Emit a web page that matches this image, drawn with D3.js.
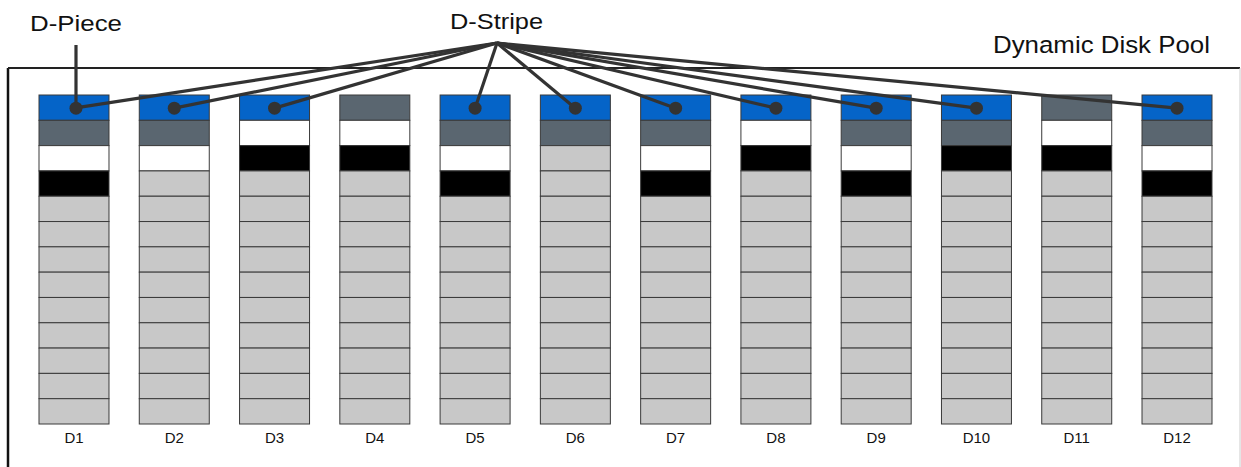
<!DOCTYPE html>
<html>
<head>
<meta charset="utf-8">
<script src="https://cdn.jsdelivr.net/npm/d3@7"></script>
<style>
  body { margin: 0; background: #fff; }
  text { font-family: "Liberation Sans", Arial, sans-serif; fill: #111; }
</style>
</head>
<body>
<div id="chart"></div>
<script>
// drives in the pool
const drives = ["D1", "D2", "D3", "D4", "D5", "D6", "D7", "D8", "D9", "D10", "D11", "D12"];
// pieces on top of each drive, top to bottom (b = blue stripe, g = gray, w = white, k = black)
const topPieces = [
  ["b", "g", "w", "k"],
  ["b", "g", "w"],
  ["b", "w", "k"],
  ["g", "w", "k"],
  ["b", "g", "w", "k"],
  ["b", "g"],
  ["b", "g", "w", "k"],
  ["b", "w", "k"],
  ["b", "g", "w", "k"],
  ["b", "g", "k"],
  ["g", "w", "k"],
  ["b", "g", "w", "k"]
];
const rowCount = 13;
// drives that hold a piece of the highlighted stripe
const stripeDrives = ["D1", "D2", "D3", "D5", "D6", "D7", "D8", "D9", "D10", "D12"];

const colors = { b: "#0564c8", g: "#5a6670", w: "#ffffff", k: "#000000", e: "#c8c8c8" };

const W = 1241, H = 467;
const svg = d3.select("#chart").append("svg")
  .attr("width", W).attr("height", H);

const x = d3.scaleBand().domain(drives).range([39, 1212]).paddingInner(0.302);
const y = d3.scaleBand().domain(d3.range(rowCount)).range([95, 424]);

// pool border
svg.append("line").attr("x1", 8).attr("x2", 8).attr("y1", 68).attr("y2", H)
  .attr("stroke", "#111").attr("stroke-width", 2.5);
svg.append("line").attr("x1", 8).attr("x2", 1240).attr("y1", 68).attr("y2", 68)
  .attr("stroke", "#222").attr("stroke-width", 2);
svg.append("line").attr("x1", 1240).attr("x2", 1240).attr("y1", 68).attr("y2", H)
  .attr("stroke", "#ccc").attr("stroke-width", 1);

// cells
const cells = [];
drives.forEach((d, i) => {
  for (let r = 0; r < rowCount; r++) {
    cells.push({ drive: d, row: r, code: topPieces[i][r] || "e" });
  }
});

svg.selectAll(".cell")
  .data(cells)
  .enter()
  .append("rect")
  .attr("x", (d) => x(d.drive))
  .attr("y", (d) => y(d.row))
  .attr("width", x.bandwidth())
  .attr("height", y.bandwidth())
  .attr("fill", (d) => colors[d.code])
  .attr("stroke", "#3a3a3a")
  .attr("stroke-width", 1);

// drive labels
svg.selectAll(".lbl")
  .data(drives)
  .enter()
  .append("text")
  .attr("x", (d) => x(d) + x.bandwidth() / 2)
  .attr("y", 443)
  .attr("text-anchor", "middle")
  .attr("font-size", 15)
  .text((d) => d);

// stripe leaders
const dotY = y(0) + y.bandwidth() / 2 + 0.5;
const apex = [497, 43];
svg.selectAll(".lead")
  .data(stripeDrives)
  .enter()
  .append("line")
  .attr("x1", apex[0]).attr("y1", apex[1])
  .attr("x2", (d) => x(d) + x.bandwidth() / 2)
  .attr("y2", dotY)
  .attr("stroke", "#333").attr("stroke-width", 3.2);

// piece leader
svg.append("line")
  .attr("x1", x("D1") + x.bandwidth() / 2 + 2).attr("x2", x("D1") + x.bandwidth() / 2 + 2)
  .attr("y1", 45).attr("y2", dotY)
  .attr("stroke", "#333").attr("stroke-width", 3.2);

svg.selectAll(".dot")
  .data(stripeDrives)
  .enter()
  .append("circle")
  .attr("cx", (d) => x(d) + x.bandwidth() / 2 + (d === "D1" ? 2 : 0))
  .attr("cy", dotY)
  .attr("r", 6.5)
  .attr("fill", "#333");

// titles
svg.append("text").attr("x", 30).attr("y", 31).attr("font-size", 22.5)
  .attr("textLength", 92).attr("lengthAdjust", "spacingAndGlyphs").text("D-Piece");
svg.append("text").attr("x", 450).attr("y", 29)
  .attr("font-size", 22.5).attr("textLength", 93).attr("lengthAdjust", "spacingAndGlyphs")
  .text("D-Stripe");
svg.append("text").attr("x", 993).attr("y", 53)
  .attr("font-size", 24.5).attr("textLength", 217).attr("lengthAdjust", "spacingAndGlyphs")
  .text("Dynamic Disk Pool");
</script>
</body>
</html>
